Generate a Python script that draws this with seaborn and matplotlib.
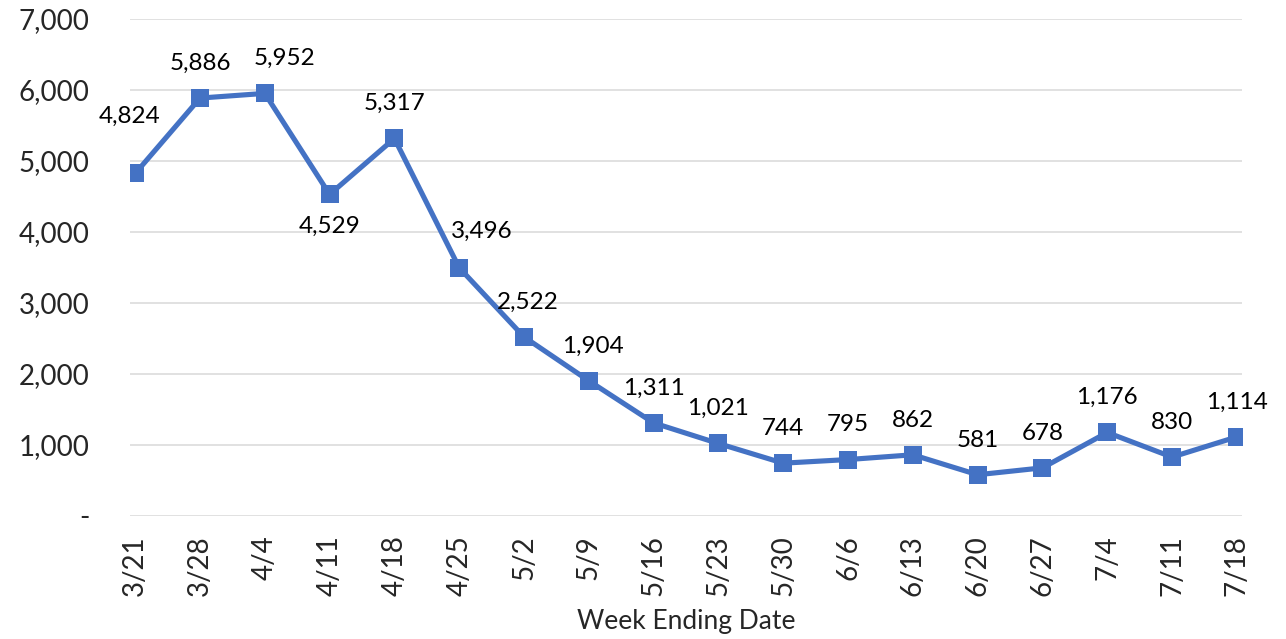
import pandas as pd
import matplotlib.pyplot as plt
import seaborn as sns

# weekly counts
weeks = ['3/21', '3/28', '4/4', '4/11', '4/18', '4/25', '5/2', '5/9', '5/16',
         '5/23', '5/30', '6/6', '6/13', '6/20', '6/27', '7/4', '7/11', '7/18']
counts = [4824, 5886, 5952, 4529, 5317, 3496, 2522, 1904, 1311,
          1021, 744, 795, 862, 581, 678, 1176, 830, 1114]
y_ticks = [0, 1000, 2000, 3000, 4000, 5000, 6000, 7000]
y_tick_labels = ['-', '1,000', '2,000', '3,000', '4,000', '5,000', '6,000', '7,000']

df = pd.DataFrame({'week': weeks, 'count': counts})
df['pos'] = range(len(df))

sns.set_style('white')
plt.rcParams['font.family'] = ['Lato', 'DejaVu Sans']

fig = plt.figure(figsize=(12.86, 6.39), dpi=100)
ax = fig.add_axes([0.1011, 0.1925, 0.8647, 0.7778])

sns.lineplot(data=df, x='pos', y='count', color='#4472C4', linewidth=3.7,
             marker='s', markersize=12.5, markeredgewidth=0, ax=ax)

# data labels: mostly above the point, a few moved by hand
for i, (x, y) in enumerate(zip(df['pos'], df['count'])):
    dx, dy = 0, 25
    if i == 0:
        dx, dy = -4, 41
    elif i == 2:
        dx, dy = 14, 25
    elif i == 3:
        dx, dy = 0, -23
    elif i == 5:
        dx, dy = 16, 26
    elif i in (6, 7):
        dx, dy = 3, 25
    ax.annotate(f'{y:,}', (x, y), xytext=(dx, dy), textcoords='offset points',
                ha='center', va='center', fontsize=17.5, color='black')

ax.set_xlim(-0.08, len(weeks) - 1 + 0.08)
ax.set_ylim(0, 7000)
ax.set_xticks(df['pos'])
ax.set_xticklabels(weeks, rotation=90, fontsize=20)
ax.set_yticks(y_ticks)
ax.set_yticklabels(y_tick_labels, fontsize=20)
ax.tick_params(axis='y', length=0, pad=29)
ax.tick_params(axis='x', length=0, pad=14)
ax.yaxis.grid(True, color='#D9D9D9', linewidth=1.1)
ax.set_axisbelow(True)
for s in ax.spines.values():
    s.set_visible(False)
ax.set_ylabel('')
ax.set_xlabel('Week Ending Date', fontsize=19, labelpad=9)

plt.savefig('out.png', dpi=100)
